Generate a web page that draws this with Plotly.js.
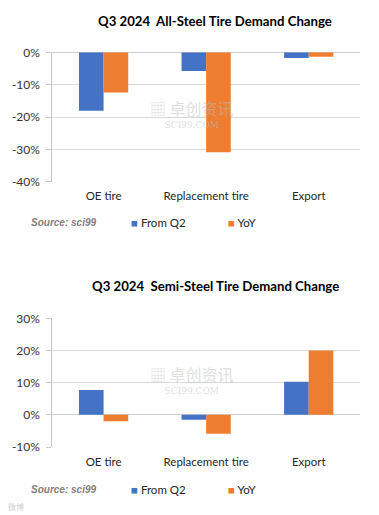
<!DOCTYPE html>
<html>
<head>
<meta charset="utf-8">
<script src="https://cdn.plot.ly/plotly-3.0.1.min.js"></script>
<style>html,body{margin:0;padding:0;background:#fff;}#chart{width:379px;height:515px;}</style>
</head>
<body>
<div id="chart"></div>
<script>
const categories = ["OE tire", "Replacement tire", "Export"];
const seriesNames = ["From Q2", "YoY"];
const allSteelFromQ2 = [-18.1, -5.8, -1.8];
const allSteelYoY = [-12.4, -30.9, -1.4];
const semiSteelFromQ2 = [7.7, -1.5, 10.3];
const semiSteelYoY = [-2.0, -5.9, 20.0];
const allSteelTicks = [0, -10, -20, -30, -40];
const semiSteelTicks = [30, 20, 10, 0, -10];
const titles = ["Q3 2024  All-Steel Tire Demand Change", "Q3 2024  Semi-Steel Tire Demand Change"];

const BLUE = "#4472C4", ORANGE = "#ED7D31";
const FONT = "Lato, 'Open Sans', sans-serif";
const W = 379, H = 515;
const px = v => v / W;
const py = v => 1 - v / H;

const traces = [
  {type: "bar", name: seriesNames[0], x: categories, y: allSteelFromQ2, marker: {color: BLUE}, xaxis: "x", yaxis: "y", showlegend: false, hoverinfo: "skip"},
  {type: "bar", name: seriesNames[1], x: categories, y: allSteelYoY, marker: {color: ORANGE}, xaxis: "x", yaxis: "y", showlegend: false, hoverinfo: "skip"},
  {type: "bar", name: seriesNames[0], x: categories, y: semiSteelFromQ2, marker: {color: BLUE}, xaxis: "x2", yaxis: "y2", showlegend: false, hoverinfo: "skip"},
  {type: "bar", name: seriesNames[1], x: categories, y: semiSteelYoY, marker: {color: ORANGE}, xaxis: "x2", yaxis: "y2", showlegend: false, hoverinfo: "skip"}
];

const xCommon = {
  type: "category", showgrid: false, showline: false, zeroline: false, ticks: "",
  tickfont: {family: FONT, size: 11.5, color: "#262626"}, ticklabelstandoff: 6, fixedrange: true
};
const yCommon = {
  showgrid: true, gridcolor: "#d9d9d9", gridwidth: 1, zeroline: true, zerolinecolor: "#cfcfcf", zerolinewidth: 1,
  showline: true, linecolor: "#c8c8c8", linewidth: 1, ticks: "outside", ticklen: 5, tickcolor: "#c8c8c8", tickwidth: 1,
  tickmode: "array",
  tickfont: {family: FONT, size: 12, color: "#333333"}, ticklabelstandoff: 4, fixedrange: true
};
const pct = arr => arr.map(v => v + "%");

const annotations = [];
const charts = [
  {title: titles[0], titleY: 20.7, legendY: 222.5, top: 52.3, bottom: 181.7},
  {title: titles[1], titleY: 286, legendY: 489.5, top: 318.3, bottom: 447}
];
charts.forEach((c, i) => {
  annotations.push({xref: "paper", yref: "paper", x: px(215), y: py(c.titleY), xanchor: "center", yanchor: "middle",
    text: "<b>" + c.title + "</b>", showarrow: false, font: {family: FONT, size: 13.2, color: "#000"}});
  annotations.push({xref: "paper", yref: "paper", x: px(29), y: py(c.legendY), xanchor: "left", yanchor: "middle",
    text: "<b><i>Source: sci99</i></b>", showarrow: false, font: {family: "'Liberation Sans', Arial, sans-serif", size: 10, color: "#7f7f7f"}});
  annotations.push({xref: "paper", yref: "paper", x: px(129), y: py(c.legendY), xanchor: "left", yanchor: "middle",
    text: "<span style='color:" + BLUE + "'>■</span> " + seriesNames[0], showarrow: false, font: {family: FONT, size: 11.5, color: "#262626"}});
  annotations.push({xref: "paper", yref: "paper", x: px(226), y: py(c.legendY), xanchor: "left", yanchor: "middle",
    text: "<span style='color:" + ORANGE + "'>■</span> " + seriesNames[1], showarrow: false, font: {family: FONT, size: 11.5, color: "#262626"}});
  const mid = (c.top + c.bottom) / 2;
  annotations.push({xref: "paper", yref: "paper", x: px(192), y: py(mid - 4), xanchor: "center", yanchor: "middle",
    text: "<span style='font-size:16px'>▦ 卓创资讯</span><br><span style='font-size:9px;font-family:DejaVu Serif'>SCI99.COM</span>",
    showarrow: false, align: "center",
    font: {family: "'Noto Sans CJK SC', sans-serif", size: 10, color: "rgba(190,190,190,0.5)"}});
});
annotations.push({xref: "paper", yref: "paper", x: px(6), y: py(506), xanchor: "left", yanchor: "middle",
  text: "微博", showarrow: false, font: {family: "'Noto Sans CJK SC', sans-serif", size: 8, color: "rgba(170,170,170,0.6)"}});

const layout = {
  width: W, height: H, margin: {l: 0, r: 0, t: 0, b: 0},
  paper_bgcolor: "#fff", plot_bgcolor: "rgba(0,0,0,0)",
  barmode: "group", bargap: 0.52, bargroupgap: 0,
  showlegend: false,
  xaxis: Object.assign({}, xCommon, {domain: [px(52.3), px(360)], anchor: "y"}),
  yaxis: Object.assign({}, yCommon, {domain: [py(181.7), py(52.3)], range: [-40, 0], tickvals: allSteelTicks, ticktext: pct(allSteelTicks), anchor: "x"}),
  xaxis2: Object.assign({}, xCommon, {domain: [px(52.3), px(360)], anchor: "y2"}),
  yaxis2: Object.assign({}, yCommon, {domain: [py(447), py(318.3)], range: [-10, 30], tickvals: semiSteelTicks, ticktext: pct(semiSteelTicks), anchor: "x2"}),
  annotations: annotations
};

Plotly.newPlot("chart", traces, layout, {displayModeBar: false, staticPlot: true});
</script>
</body>
</html>
